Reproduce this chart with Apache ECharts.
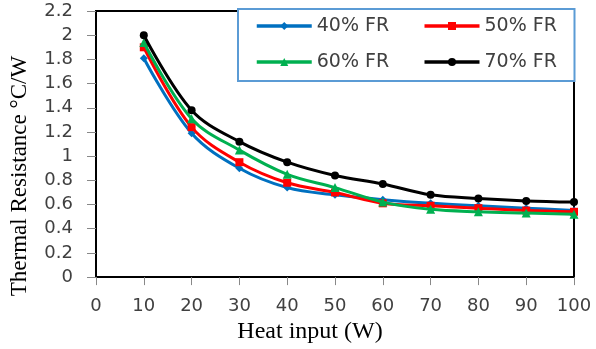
<!DOCTYPE html>
<html>
<head>
<meta charset="utf-8">
<script src="https://cdn.jsdelivr.net/npm/echarts@6/dist/echarts.min.js"></script>
<style>html,body{margin:0;padding:0;background:#fff}#c{width:596px;height:349px}</style>
</head>
<body>
<div id="c"></div>
<script>
var heatInput = [10, 20, 30, 40, 50, 60, 70, 80, 90, 100];
var seriesNames = ['40% FR', '50% FR', '60% FR', '70% FR'];
var fr40 = [1.81, 1.19, 0.90, 0.74, 0.68, 0.64, 0.61, 0.59, 0.57, 0.55];
var fr50 = [1.90, 1.24, 0.95, 0.78, 0.70, 0.61, 0.59, 0.57, 0.55, 0.54];
var fr60 = [1.94, 1.31, 1.05, 0.85, 0.74, 0.62, 0.56, 0.54, 0.53, 0.52];
var fr70 = [2.00, 1.38, 1.12, 0.95, 0.84, 0.77, 0.68, 0.65, 0.63, 0.62];
var xTicks = [0, 10, 20, 30, 40, 50, 60, 70, 80, 90, 100];
var yTicks = [0, 0.2, 0.4, 0.6, 0.8, 1, 1.2, 1.4, 1.6, 1.8, 2, 2.2];

var colors = ['#0070C0', '#FF0000', '#00B050', '#000000'];
var symbols = ['diamond', 'rect', 'triangle', 'circle'];
var symSizes = [8, 8, 9, 8];
var allData = [fr40, fr50, fr60, fr70];

function pairs(arr) {
  return heatInput.map(function (x, i) { return [x, arr[i]]; });
}

var series = seriesNames.map(function (n, i) {
  return {
    name: n,
    type: 'line',
    data: pairs(allData[i]),
    smooth: 0.35,
    symbol: symbols[i],
    symbolSize: symSizes[i],
    showSymbol: true,
    color: colors[i],
    lineStyle: { width: 3, color: colors[i] },
    itemStyle: { color: colors[i] },
    z: 2 + i
  };
});

var legendText = { fontSize: 19, fontFamily: 'DejaVu Sans', color: '#404040', width: 80, lineHeight: 22 };

var chart = echarts.init(document.getElementById('c'), null, { renderer: 'canvas' });
chart.setOption({
  animation: false,
  backgroundColor: '#fff',
  color: colors,
  grid: { left: 95, right: 22, top: 11, bottom: 69, show: true, borderColor: '#000', borderWidth: 2, containLabel: false },
  legend: [
    {
      data: [seriesNames[0], seriesNames[1]],
      left: 238, top: 9, orient: 'horizontal',
      itemWidth: 55, itemHeight: 10, itemGap: 26,
      padding: [6, 10, 44, 17],
      borderColor: '#5B9BD5', borderWidth: 2, backgroundColor: '#fff',
      lineStyle: { width: 3.5 },
      textStyle: legendText, z: 10
    },
    {
      data: [seriesNames[2], seriesNames[3]],
      left: 255, top: 51, orient: 'horizontal',
      itemWidth: 55, itemHeight: 10, itemGap: 26,
      padding: 0,
      lineStyle: { width: 3.5 },
      textStyle: legendText, z: 11
    }
  ],
  xAxis: {
    type: 'value', min: xTicks[0], max: xTicks[xTicks.length - 1], interval: 10,
    name: 'Heat input (W)', nameLocation: 'middle', nameGap: 42,
    nameTextStyle: { fontFamily: 'Liberation Serif', fontSize: 24, color: '#000', padding: [0, 50, 0, 0] },
    axisLine: { show: true, lineStyle: { color: '#000', width: 2 } },
    axisTick: { show: true, length: 8, lineStyle: { color: '#888', width: 1 } },
    axisLabel: { margin: 20, fontFamily: 'DejaVu Sans', fontSize: 18, color: '#404040' },
    splitLine: { show: false }
  },
  yAxis: {
    type: 'value', min: yTicks[0], max: yTicks[yTicks.length - 1], interval: 0.2,
    name: 'Thermal Resistance \u00B0C/W', nameLocation: 'middle', nameGap: 65,
    nameTextStyle: { fontFamily: 'Liberation Serif', fontSize: 23, color: '#000', padding: [0, 64, 0, 0] },
    axisLine: { show: true, lineStyle: { color: '#000', width: 2 } },
    axisTick: { show: true, length: 9, lineStyle: { color: '#888', width: 1 } },
    axisLabel: {
      margin: 23, fontFamily: 'DejaVu Sans', fontSize: 18, color: '#404040',
      formatter: function (v) { return String(Math.round(v * 10) / 10); }
    },
    splitLine: { show: false }
  },
  series: series
});
</script>
</body>
</html>
